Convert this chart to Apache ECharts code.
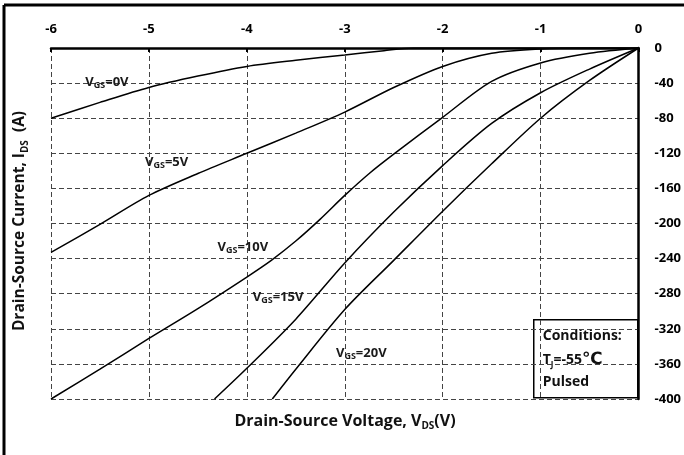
<!DOCTYPE html>
<html>
<head>
<meta charset="utf-8">
<script src="https://cdn.jsdelivr.net/npm/echarts@6/dist/echarts.min.js"></script>
<style>
html, body { margin: 0; padding: 0; background: #fff; }
#main { width: 684px; height: 455px; }
</style>
</head>
<body>
<div id="main"></div>
<script>
var FONT = '"Open Sans", "Liberation Sans", sans-serif';

// V_DS (V), I_DS (A)
var vgs0 = [[-6, -80], [-5.5, -62], [-5, -45], [-4.5, -32], [-4, -21], [-3.5, -14], [-3, -8], [-2.6, -3], [-2.3, 0], [-1, 0], [0, 0]];
var vgs5 = [[-6, -233], [-5.5, -201], [-5, -168], [-4.5, -143], [-4, -120], [-3.5, -97], [-3, -73], [-2.5, -45], [-2, -21], [-1.5, -6], [-1, -1], [-0.5, 0], [0, 0]];
var vgs10 = [[-6, -400], [-5.5, -366], [-5, -331], [-4.5, -297], [-4, -261], [-3.75, -242], [-3.5, -220], [-3.25, -195], [-3, -168], [-2.75, -143], [-2.5, -121], [-2, -79], [-1.5, -38], [-1, -17], [-0.5, -6], [0, 0]];
var vgs15 = [[-4.33, -400], [-4, -365], [-3.5, -309], [-3, -245], [-2.5, -187], [-2, -134], [-1.5, -86], [-1, -51], [-0.5, -24], [0, 0]];
var vgs20 = [[-3.74, -400], [-3.5, -366], [-3, -298], [-2.5, -242], [-2, -186], [-1.5, -132], [-1, -80], [-0.5, -37], [0, 0]];

var curveNames = ['0V', '5V', '10V', '15V', '20V'];
var curveData = [vgs0, vgs5, vgs10, vgs15, vgs20];
// where each V_GS label starts (data units)
var labelSpots = [[-5.65, -39], [-5.04, -130], [-4.30, -227], [-3.94, -284], [-3.09, -348]];

var xMin = -6, xMax = 0, xStep = 1;
var yMin = -400, yMax = 0, yStep = 40;

var myChart = echarts.init(document.getElementById('main'));

var subRich = {
    a: { fontFamily: FONT, fontSize: 13, fontWeight: 'bold', color: '#1a1a1a', lineHeight: 16 },
    b: { fontFamily: FONT, fontSize: 9, fontWeight: 'bold', color: '#1a1a1a', lineHeight: 12, verticalAlign: 'bottom' }
};

var series = curveData.map(function(d, i) {
    return {
        type: 'line',
        data: d,
        smooth: 0.3,
        symbol: 'none',
        lineStyle: { color: '#000', width: 1.5 },
        silent: true,
        markPoint: {
            symbol: 'circle',
            symbolSize: 0,
            silent: true,
            data: [{
                coord: labelSpots[i],
                label: {
                    show: true,
                    position: 'right',
                    distance: 0,
                    formatter: '{a|V}{b|GS}{a|=' + curveNames[i] + '}',
                    rich: subRich
                }
            }]
        }
    };
});

function titleRich(size) {
    return {
        a: { fontFamily: FONT, fontSize: size, fontWeight: 'bold', fill: '#111', lineHeight: 20 },
        b: { fontFamily: FONT, fontSize: 10, fontWeight: 'bold', fill: '#111', lineHeight: 14, verticalAlign: 'bottom' }
    };
}

var option = {
    backgroundColor: '#fff',
    animation: false,
    grid: { left: 51, right: 44, top: 48, bottom: 56 },
    xAxis: {
        type: 'value',
        position: 'top',
        min: xMin,
        max: xMax,
        interval: xStep,
        axisLine: { show: true, lineStyle: { color: '#000', width: 2.5 } },
        axisTick: { show: true, inside: true, length: 4, lineStyle: { color: '#000', width: 2 } },
        axisLabel: { margin: 12, color: '#000', fontFamily: FONT, fontWeight: 'bold', fontSize: 13 },
        splitLine: { show: true, lineStyle: { color: '#444', type: [5, 3], width: 1 } }
    },
    yAxis: {
        type: 'value',
        position: 'right',
        min: yMin,
        max: yMax,
        interval: yStep,
        axisLine: { show: true, lineStyle: { color: '#000', width: 2.5 } },
        axisTick: { show: false },
        axisLabel: { margin: 16, align: 'left', color: '#000', fontFamily: FONT, fontWeight: 'bold', fontSize: 13 },
        splitLine: { show: true, lineStyle: { color: '#444', type: [5, 3], width: 1 } }
    },
    series: series,
    graphic: [
        { type: 'line', shape: { x1: 4, y1: 5, x2: 684, y2: 5 }, style: { stroke: '#000', lineWidth: 3 } },
        { type: 'line', shape: { x1: 4, y1: 5, x2: 4, y2: 455 }, style: { stroke: '#000', lineWidth: 3 } },
        {
            type: 'text',
            x: 345, y: 421,
            style: {
                text: '{a|Drain-Source Voltage, V}{b|DS}{a|(V)}',
                align: 'center', verticalAlign: 'middle',
                rich: titleRich(16)
            }
        },
        {
            type: 'text',
            x: 20, y: 221,
            rotation: Math.PI / 2,
            style: {
                text: '{a|Drain-Source Current, I}{b|DS}{a|  (A)}',
                align: 'center', verticalAlign: 'middle',
                rich: titleRich(15.5)
            }
        },
        {
            type: 'group',
            left: 533, top: 319,
            children: [
                { type: 'rect', shape: { x: 0, y: 0, width: 104, height: 78 }, style: { fill: '#fff', stroke: '#000', lineWidth: 1.5 } },
                { type: 'text', x: 9, y: 16, style: { text: 'Conditions:', fontFamily: FONT, fontSize: 14, fontWeight: 'bold', fill: '#111', verticalAlign: 'middle' } },
                {
                    type: 'text', x: 9, y: 40,
                    style: {
                        text: '{a|T}{b|J}{a|=-55}{c|℃}',
                        verticalAlign: 'middle',
                        rich: {
                            a: { fontFamily: FONT, fontSize: 14, fontWeight: 'bold', fill: '#111', lineHeight: 18 },
                            b: { fontFamily: FONT, fontSize: 8, fontWeight: 'bold', fill: '#111', lineHeight: 13, verticalAlign: 'bottom' },
                            c: { fontFamily: '"DejaVu Sans", sans-serif', fontSize: 17, fontWeight: 'bold', fill: '#111', lineHeight: 18 }
                        }
                    }
                },
                { type: 'text', x: 9, y: 62, style: { text: 'Pulsed', fontFamily: FONT, fontSize: 14, fontWeight: 'bold', fill: '#111', verticalAlign: 'middle' } }
            ]
        }
    ]
};

myChart.setOption(option);
</script>
</body>
</html>
